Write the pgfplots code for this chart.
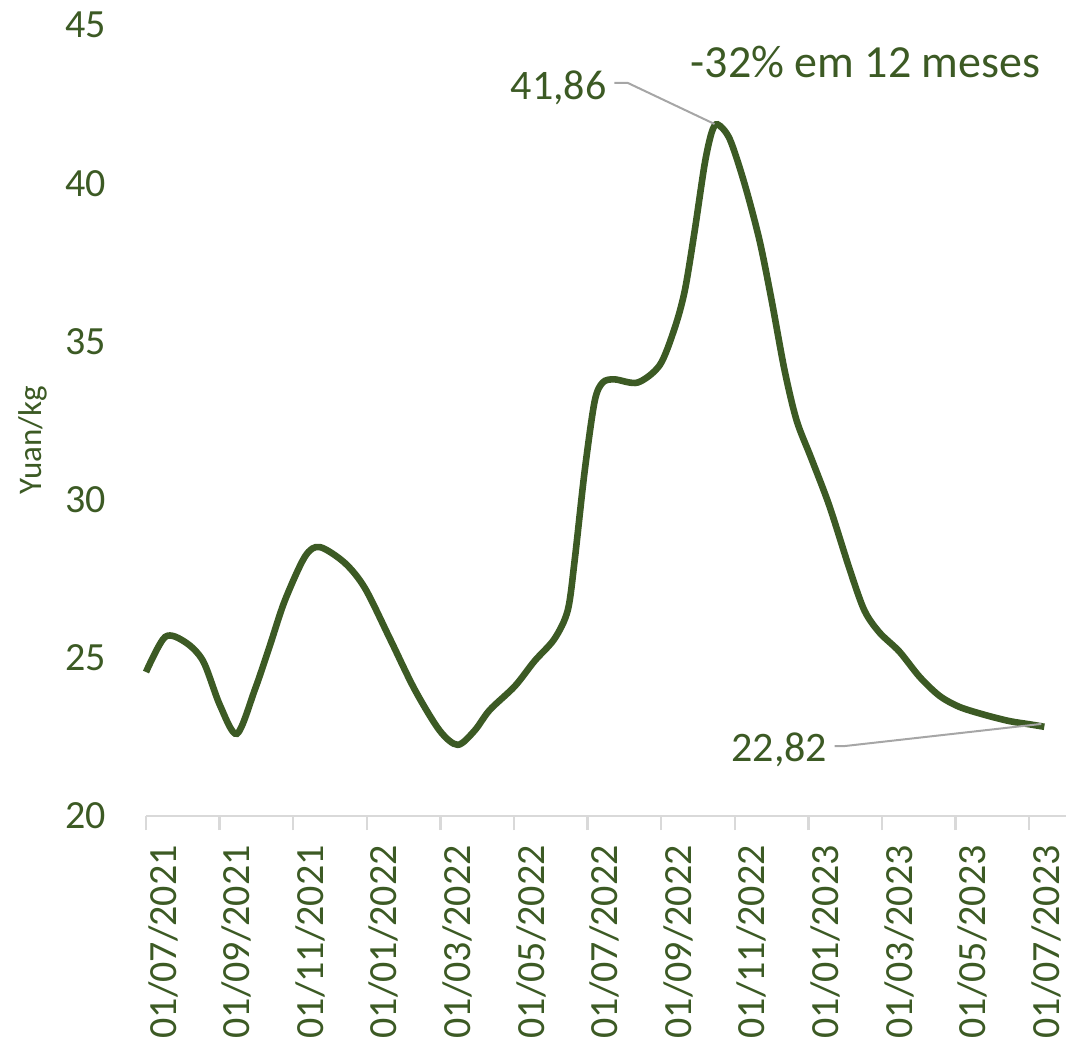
\documentclass[border=0pt]{standalone}
\usepackage{pgfplots}
\pgfplotsset{compat=1.18}
\usepackage{fontspec}
\setmainfont{Carlito}
\definecolor{dgreen}{RGB}{60,90,36}
\definecolor{axgray}{RGB}{217,217,217}
\definecolor{leadgray}{RGB}{166,166,166}
\begin{document}
\begin{tikzpicture}
\useasboundingbox (0,0) rectangle (534pt,521.5pt);
\begin{axis}[
  at={(73pt,113.5pt)}, anchor=south west,
  scale only axis, width=460pt, height=395.5pt,
  xmin=0, xmax=25, ymin=20, ymax=45,
  axis x line*=bottom, axis y line*=left,
  y axis line style={draw=none},
  x axis line style={draw=axgray, line width=1.2pt},
  ytick={20,25,...,45},
  ytick style={draw=none},
  xtick={0,2,...,24},
  xticklabels={01/07/2021,01/09/2021,01/11/2021,01/01/2022,01/03/2022,01/05/2022,01/07/2022,01/09/2022,01/11/2022,01/01/2023,01/03/2023,01/05/2023,01/07/2023},
  xtick style={draw=axgray, line width=1.2pt},
  tick align=outside, major tick length=7pt,
  /pgf/number format/assume math mode=true,
  ticklabel style={font=\fontsize{20}{24}\selectfont, text=dgreen},
  yticklabel style={anchor=east, inner sep=0pt, xshift=-13pt},
  xticklabel style={xshift=8.5pt, yshift=-7.5pt, rotate=90, anchor=east, inner sep=0pt},
  clip=false,
]
\addplot[dgreen, line width=3.3pt, smooth, tension=0.5] coordinates {
(0.00,24.55) (0.52,25.66) (1.06,25.5) (1.55,24.9) (2.01,23.5) (2.47,22.6)
(2.96,24.0) (3.37,25.4) (3.77,26.8) (4.32,28.2) (4.72,28.5) (5.40,28.0)
(5.95,27.2) (6.63,25.6) (7.30,24.0) (7.98,22.7) (8.47,22.25) (8.93,22.7)
(9.34,23.35) (10.02,24.1) (10.56,24.9) (11.10,25.6) (11.46,26.5) (11.65,28.1)
(11.92,30.9) (12.19,33.1) (12.41,33.7) (12.73,33.8) (13.36,33.7) (13.96,34.25)
(14.36,35.4) (14.64,36.6) (14.91,38.5) (15.18,40.6) (15.37,41.6) (15.53,41.86)
(15.86,41.4) (16.26,40.0) (16.67,38.2) (17.00,36.3) (17.35,34.1) (17.68,32.5)
(18.08,31.3) (18.57,29.8) (19.12,27.8) (19.52,26.5) (19.93,25.8) (20.47,25.2)
(21.02,24.4) (21.56,23.8) (22.10,23.45) (22.78,23.2) (23.46,23.0) (24.00,22.9)
(24.41,22.82)
};
\draw[leadgray, line width=1pt] (axis cs:12.73,43.17) -- (axis cs:13.09,43.17) -- (axis cs:15.45,41.87);
\draw[leadgray, line width=1pt] (axis cs:18.71,22.21) -- (axis cs:18.98,22.21) -- (axis cs:24.33,22.91);
\node[anchor=east, inner sep=0pt, text=dgreen, font=\fontsize{21}{25}\selectfont] at (axis cs:12.52,43.0) {41,86};
\node[anchor=east, inner sep=0pt, text=dgreen, font=\fontsize{21}{25}\selectfont] at (axis cs:18.52,22.09) {22,82};
\node[inner sep=0pt, text=dgreen, font=\fontsize{23}{27}\selectfont] at (axis cs:19.55,43.83) {-32\% em 12 meses};
\end{axis}
\node[rotate=90, inner sep=0pt, text=dgreen, font=\fontsize{16.5}{20}\selectfont] at (16.5pt,301.5pt) {Yuan/kg};
\end{tikzpicture}
\end{document}
